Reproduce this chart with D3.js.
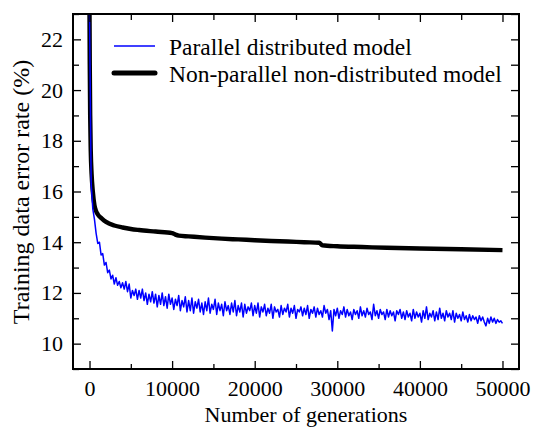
<!DOCTYPE html>
<html>
<head>
<meta charset="utf-8">
<script src="https://cdn.jsdelivr.net/npm/d3@7"></script>
<style>
  body { margin: 0; background: #fff; }
  svg, svg text { font-family: "Liberation Serif", "Times New Roman", serif !important; }
</style>
</head>
<body>
<div id="vis"></div>
<script>
// frame constants
const FRAME_WIDTH = 534;
const FRAME_HEIGHT = 429;
const MARGINS = {left: 73, right: 15, top: 14, bottom: 60};

// data: error rate (%) vs number of generations
const X_TICKS = [0, 10000, 20000, 30000, 40000, 50000];
const X_MINOR = [5000, 15000, 25000, 35000, 45000];
const Y_TICKS = [10, 12, 14, 16, 18, 20, 22];
const Y_MINOR = [9, 11, 13, 15, 17, 19, 21, 23];

// parallel distributed model, one value every 200 generations
const BLUE_STEP = 200;
const blueErr = [
  23.0, 16.3, 15.3, 14.9, 14.35, 13.95, 14.0, 13.5, 13.55, 13.1,
  13.2, 12.8, 12.9, 12.55, 12.7, 12.35, 12.6, 12.3, 12.45, 12.2,
  12.4, 12.15, 12.45, 12.05, 12.35, 11.8, 12.1, 11.9, 12.15, 11.75,
  12.1, 11.8, 12.15, 11.7, 12.0, 11.55, 11.95, 11.65, 12.05, 11.6,
  11.95, 11.45, 11.9, 11.55, 12.0, 11.5, 11.85, 11.4, 11.95, 11.55,
  11.8, 11.35, 11.75, 11.5, 11.9, 11.3, 11.7, 11.45, 11.85, 11.25,
  11.7, 11.3, 11.8, 11.2, 11.65, 11.4, 11.75, 11.25, 11.6, 11.15,
  11.65, 11.3, 11.8, 11.2, 11.55, 11.35, 11.75, 11.15, 11.6, 11.3,
  11.55, 11.1, 11.65, 11.3, 11.5, 11.15, 11.6, 11.25, 11.7, 11.1,
  11.5, 11.25, 11.6, 11.05, 11.55, 11.2, 11.45, 11.3, 11.6, 11.1,
  11.5, 11.2, 11.6, 11.05, 11.45, 11.25, 11.55, 11.1, 11.4, 11.2,
  11.55, 11.0, 11.45, 11.25, 11.35, 11.05, 11.5, 11.15, 11.4, 11.25,
  11.55, 11.05, 11.4, 11.2, 11.5, 11.0, 11.35, 11.25, 11.45, 11.1,
  11.4, 11.15, 11.5, 11.0, 11.35, 11.2, 11.45, 11.05, 11.4, 11.15,
  11.3, 11.05, 11.5, 11.2, 11.35, 10.95, 11.3, 10.5, 11.35, 11.1,
  11.4, 11.0, 11.3, 11.15, 11.45, 11.05, 11.35, 11.1, 11.25, 10.95,
  11.35, 11.15, 11.3, 11.0, 11.45, 11.1, 11.3, 11.05, 11.4, 11.15,
  11.25, 10.95, 11.55, 11.1, 11.3, 11.0, 11.35, 11.15, 11.25, 10.95,
  11.35, 11.05, 11.3, 11.1, 11.25, 10.9, 11.3, 11.15, 11.35, 11.0,
  11.25, 10.95, 11.3, 11.05, 11.2, 10.9, 11.35, 11.0, 11.25, 11.05,
  11.2, 10.85, 11.3, 11.0, 11.45, 10.95, 11.2, 11.05, 11.3, 10.9,
  11.25, 10.95, 11.4, 11.0, 11.2, 10.9, 11.3, 11.05, 11.2, 10.95,
  11.3, 10.85, 11.2, 11.0, 11.15, 10.9, 11.25, 10.95, 11.1, 10.85,
  11.15, 10.9, 11.1, 10.95, 11.05, 10.8, 11.1, 10.9, 11.05, 10.85,
  10.7, 11.0, 10.8, 11.05, 10.85, 11.0, 10.8, 10.95, 10.85, 10.9,
  10.8
];

// non-parallel non-distributed model (smooth curve)
const blackGen = [0, 30, 80, 150, 250, 400, 600, 800, 1000, 1500, 2000, 3000, 4000, 5000,
  6000, 8000, 10000, 10400, 10800, 12000, 14000, 16000, 18000, 20000, 22000, 24000,
  26000, 27800, 28200, 30000, 33000, 36000, 40000, 45000, 50000];
const blackErr = [23.0, 21.0, 19.0, 17.6, 16.7, 16.0, 15.45, 15.22, 15.1, 14.93, 14.8, 14.66, 14.58, 14.52,
  14.48, 14.42, 14.36, 14.3, 14.26, 14.23, 14.18, 14.14, 14.11, 14.08, 14.05, 14.03,
  14.0, 13.98, 13.88, 13.84, 13.81, 13.78, 13.75, 13.72, 13.69];

const SERIES = ["Parallel distributed model", "Non-parallel non-distributed model"];

const VIS_WIDTH = FRAME_WIDTH - MARGINS.left - MARGINS.right;
const VIS_HEIGHT = FRAME_HEIGHT - MARGINS.top - MARGINS.bottom;

const FRAME = d3.select("#vis")
  .append("svg")
    .attr("width", FRAME_WIDTH)
    .attr("height", FRAME_HEIGHT);

const X_SCALE = d3.scaleLinear()
  .domain([-2000, 52000])
  .range([MARGINS.left, MARGINS.left + VIS_WIDTH]);
const Y_SCALE = d3.scaleLinear()
  .domain([9, 23])
  .range([MARGINS.top + VIS_HEIGHT, MARGINS.top]);

// clip for the curves
FRAME.append("clipPath").attr("id", "plotclip")
  .append("rect")
    .attr("x", MARGINS.left).attr("y", MARGINS.top)
    .attr("width", VIS_WIDTH).attr("height", VIS_HEIGHT);

const blueData = blueErr.map((v, i) => [i * BLUE_STEP, v]);
const blackData = blackGen.map((g, i) => [g, blackErr[i]]);

const line = d3.line()
  .x((d) => X_SCALE(d[0]))
  .y((d) => Y_SCALE(d[1]));

const plot = FRAME.append("g").attr("clip-path", "url(#plotclip)");

plot.append("path")
  .datum(blackData)
  .attr("d", line.curve(d3.curveMonotoneX))
  .attr("fill", "none")
  .attr("stroke", "#000")
  .attr("stroke-width", 4.4)
  .attr("stroke-linejoin", "round");

plot.append("path")
  .datum(blueData)
  .attr("d", line.curve(d3.curveLinear))
  .attr("fill", "none")
  .attr("stroke", "#0000ff")
  .attr("stroke-width", 1.5)
  .attr("stroke-linejoin", "round");

// axes with inward ticks on all four sides
function styleAxis(g) {
  g.attr("font-family", null);
  g.select(".domain").remove();
  g.selectAll("line").attr("stroke", "#000").attr("stroke-width", 1.3);
  g.selectAll("text").attr("fill", "#000").style("font-size", "22px");
}

const bottomY = MARGINS.top + VIS_HEIGHT;
const rightX = MARGINS.left + VIS_WIDTH;

FRAME.append("g").attr("transform", "translate(0," + bottomY + ")")
  .call(d3.axisBottom(X_SCALE).tickValues(X_TICKS).tickSize(-8).tickPadding(11).tickFormat(d3.format("d")))
  .call(styleAxis);
FRAME.append("g").attr("transform", "translate(0," + bottomY + ")")
  .call(d3.axisBottom(X_SCALE).tickValues(X_MINOR).tickSize(-5).tickFormat(""))
  .call(styleAxis);
FRAME.append("g").attr("transform", "translate(0," + MARGINS.top + ")")
  .call(d3.axisTop(X_SCALE).tickValues(X_TICKS).tickSize(-8).tickFormat(""))
  .call(styleAxis);
FRAME.append("g").attr("transform", "translate(0," + MARGINS.top + ")")
  .call(d3.axisTop(X_SCALE).tickValues(X_MINOR).tickSize(-6).tickFormat(""))
  .call(styleAxis);

FRAME.append("g").attr("transform", "translate(" + MARGINS.left + ",0)")
  .call(d3.axisLeft(Y_SCALE).tickValues(Y_TICKS).tickSize(-8).tickPadding(10).tickFormat(d3.format("d")))
  .call(styleAxis);
FRAME.append("g").attr("transform", "translate(" + MARGINS.left + ",0)")
  .call(d3.axisLeft(Y_SCALE).tickValues(Y_MINOR).tickSize(-6).tickFormat(""))
  .call(styleAxis);
FRAME.append("g").attr("transform", "translate(" + rightX + ",0)")
  .call(d3.axisRight(Y_SCALE).tickValues(Y_TICKS).tickSize(-8).tickFormat(""))
  .call(styleAxis);
FRAME.append("g").attr("transform", "translate(" + rightX + ",0)")
  .call(d3.axisRight(Y_SCALE).tickValues(Y_MINOR).tickSize(-8).tickFormat(""))
  .call(styleAxis);

// frame
FRAME.append("rect")
  .attr("x", MARGINS.left).attr("y", MARGINS.top)
  .attr("width", VIS_WIDTH).attr("height", VIS_HEIGHT)
  .attr("fill", "none").attr("stroke", "#000").attr("stroke-width", 2);

// axis titles
FRAME.append("text")
  .attr("x", 306).attr("y", 422)
  .attr("text-anchor", "middle")
  .style("font-size", "22px")
  .text("Number of generations");

FRAME.append("text")
  .attr("transform", "translate(29," + 192 + ") rotate(-90)")
  .attr("text-anchor", "middle")
  .style("font-size", "24px")
  .text("Training data error rate (%)");

// legend
const legend = FRAME.append("g");
const LEG_STYLE = [{color: "#0000ff", width: 1.5}, {color: "#000", width: 5}];
SERIES.forEach((name, i) => {
  const ly = 46 + i * 27;
  legend.append("line")
    .attr("x1", 114).attr("x2", 155)
    .attr("y1", ly).attr("y2", ly)
    .attr("stroke", LEG_STYLE[i].color)
    .attr("stroke-width", LEG_STYLE[i].width)
    .attr("stroke-linecap", i === 1 ? "round" : "butt");
  legend.append("text")
    .attr("x", 169).attr("y", ly + 9)
    .style("font-size", "23.5px")
    .text(name);
});
</script>
</body>
</html>
